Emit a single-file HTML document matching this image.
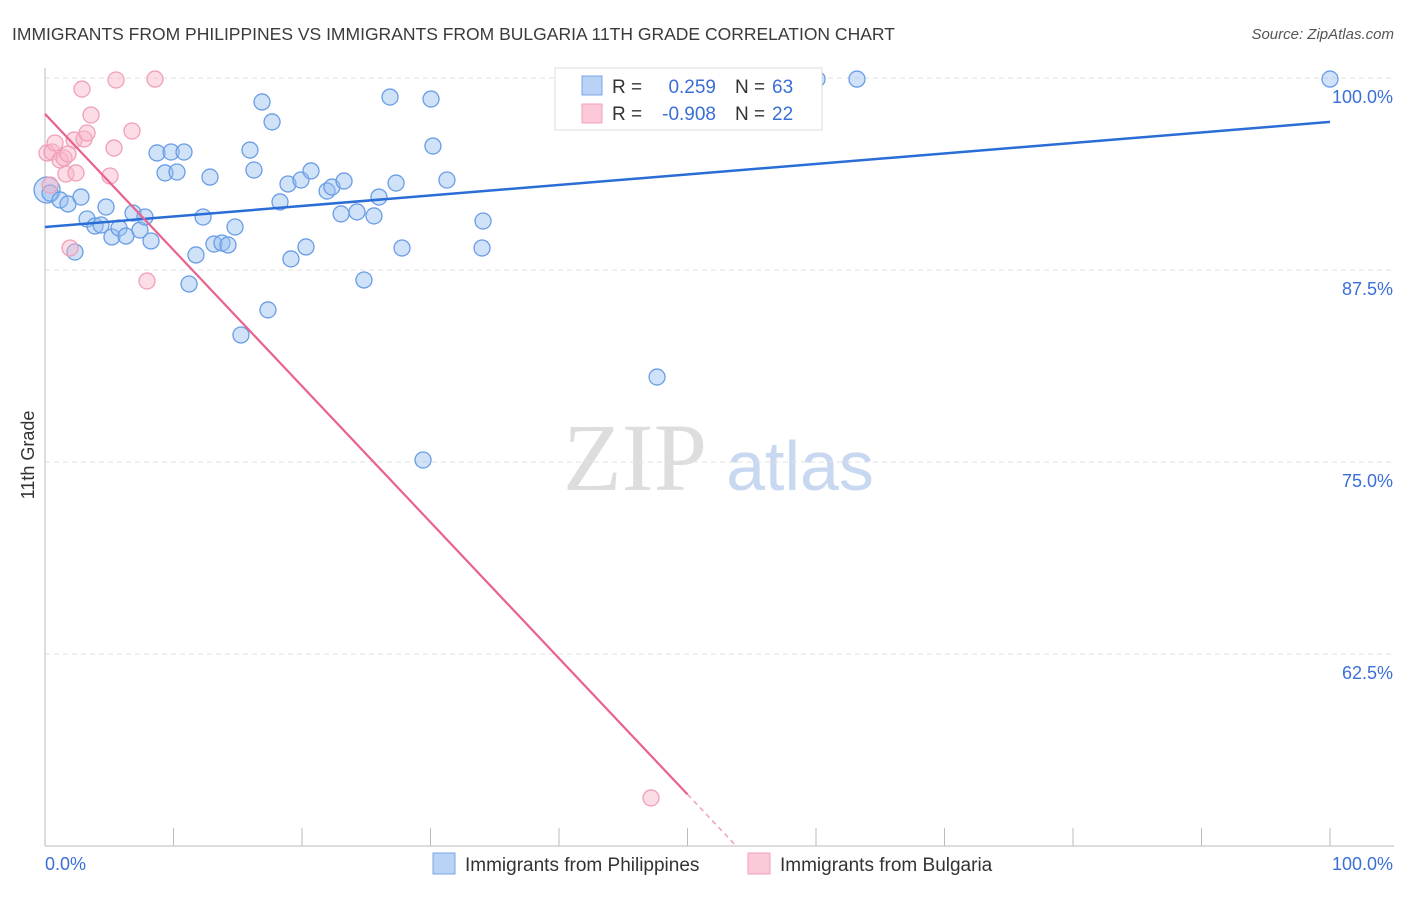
<!DOCTYPE html>
<html><head><meta charset="utf-8"><style>
body{margin:0;background:#fff;font-family:"Liberation Sans",sans-serif;}
</style></head><body>
<svg id="chart" width="1406" height="892" xmlns="http://www.w3.org/2000/svg" font-family="Liberation Sans, sans-serif">
<text x="12" y="40" font-size="17.5" fill="#3a3a3a">IMMIGRANTS FROM PHILIPPINES VS IMMIGRANTS FROM BULGARIA 11TH GRADE CORRELATION CHART</text>
<text x="1394" y="39" font-size="15" fill="#555" font-style="italic" text-anchor="end">Source: ZipAtlas.com</text>
<g><text x="635" y="490" font-size="96" fill="#ddd" font-family="Liberation Serif, serif" text-anchor="middle">ZIP</text><text x="800" y="490" font-size="70" fill="#c8d8f0" text-anchor="middle">atlas</text></g>
<text transform="translate(34,455) rotate(-90)" font-size="18" fill="#333" text-anchor="middle">11th Grade</text>
<g id="grid"></g><g id="marks"></g>
<g>
<rect x="555" y="68" width="267" height="62" fill="#fff" stroke="#ddd"/>
<rect x="582" y="76" width="20" height="19" fill="#b9d3f7" stroke="#7aa6e6"/>
<rect x="582" y="104" width="20" height="19" fill="#fbc9d8" stroke="#f0a0b8"/>
<text x="612" y="93" font-size="19" fill="#333">R =</text>
<text x="716" y="93" font-size="19" fill="#3a6fd8" text-anchor="end">0.259</text>
<text x="735" y="93" font-size="19" fill="#333">N =</text>
<text x="772" y="93" font-size="19" fill="#3a6fd8">63</text>
<text x="612" y="120" font-size="19" fill="#333">R =</text>
<text x="716" y="120" font-size="19" fill="#3a6fd8" text-anchor="end">-0.908</text>
<text x="735" y="120" font-size="19" fill="#333">N =</text>
<text x="772" y="120" font-size="19" fill="#3a6fd8">22</text>
</g>
<g>
<rect x="433" y="853" width="22" height="21" fill="#b9d3f7" stroke="#7aa6e6"/>
<text x="465" y="871" font-size="19" fill="#333">Immigrants from Philippines</text>
<rect x="748" y="853" width="22" height="21" fill="#fbc9d8" stroke="#f0a0b8"/>
<text x="780" y="871" font-size="19" fill="#333">Immigrants from Bulgaria</text>
</g>
</svg>
<script>
const blueX=[0.16,0.39,1.17,1.79,2.33,2.80,3.27,3.89,4.36,4.75,5.21,5.76,6.30,6.85,7.39,7.78,8.25,8.72,9.34,9.81,10.27,10.82,11.21,11.75,12.30,12.84,13.15,13.77,14.24,14.79,15.25,15.95,16.26,16.89,17.35,17.67,18.29,18.91,19.14,19.92,20.31,20.70,21.95,22.33,23.04,23.27,24.28,24.82,25.60,25.99,26.85,27.32,27.78,29.42,30.04,30.19,31.28,34.01,34.09,47.63,60.08,63.19,100];
const blueY=[92.71,92.51,92.06,91.80,88.67,92.25,90.82,90.36,90.43,91.60,89.65,90.23,89.71,91.21,90.10,90.95,89.39,95.12,93.82,95.18,93.88,95.18,86.59,88.48,90.95,93.55,89.19,89.26,89.13,90.30,83.27,95.31,94.01,98.44,84.90,97.14,91.93,93.10,88.22,93.36,89.00,93.95,92.64,92.90,91.15,93.29,91.28,86.85,91.02,92.25,98.76,93.16,88.93,75.13,98.63,95.57,93.36,88.93,90.69,80.53,99.93,99.93,99.93];
const pinkX=[0.16,0.54,0.78,1.17,1.48,1.63,1.79,1.95,2.26,2.41,2.88,3.04,3.27,3.58,5.06,5.37,5.53,6.77,7.94,8.56,47.16,0.39];
const pinkY=[95.12,95.18,95.77,94.66,94.79,93.75,95.05,88.93,95.96,93.82,99.28,96.03,96.42,97.59,93.62,95.44,99.87,96.55,86.78,99.93,53.13,93.03];
const blueTrend=[90.30,97.14];
const pinkTrend=[97.66,-0.886];
const yTicks=[100,87.5,75,62.5];
const yTickLabels=["100.0%","87.5%","75.0%","62.5%"];
const xTicks=[0,10,20,30,40,50,60,70,80,90,100];
const NS="http://www.w3.org/2000/svg";
const sx=v=>45+v*12.85, sy=v=>78+(100-v)/12.5*192;
function mk(t,a,p){const e=document.createElementNS(NS,t);for(const k in a)e.setAttribute(k,a[k]);p.appendChild(e);return e;}
const g=document.getElementById('grid'),m=document.getElementById('marks');
yTicks.forEach((v,i)=>{
 const l=mk('line',{x1:45,x2:1394,y1:sy(v),y2:sy(v),stroke:'#e2e2e2','stroke-dasharray':'5,4'},g);
 
 
 const t=mk('text',{x:1393,y:sy(v)+25,'font-size':18,fill:'#3a6fd8','text-anchor':'end'},g);t.textContent=yTickLabels[i];
 
 
});
mk('line',{x1:45,x2:45,y1:68,y2:846,stroke:'#bbb'},g);
mk('line',{x1:45,x2:1394,y1:846,y2:846,stroke:'#bbb'},g);
xTicks.forEach(v=>{const l=mk('line',{x1:sx(v),x2:sx(v),y1:828,y2:846,stroke:'#bbb'},g);
 
 });
let t=mk('text',{x:45,y:870,'font-size':18,fill:'#3a6fd8'},g);t.textContent='0.0%';


t=mk('text',{x:1393,y:870,'font-size':18,fill:'#3a6fd8','text-anchor':'end'},g);t.textContent='100.0%';


blueX.forEach((x,i)=>{const c=mk('circle',{cx:sx(x),cy:sy(blueY[i]),r:i==0?13:8,fill:'rgba(150,190,240,0.45)',stroke:'#6a9de6','stroke-width':1.3},m);
 
 });
pinkX.forEach((x,i)=>{const c=mk('circle',{cx:sx(x),cy:sy(pinkY[i]),r:8,fill:'rgba(248,180,200,0.45)',stroke:'#f0a0b8','stroke-width':1.3},m);
 
 });
let l=mk('line',{x1:sx(0),y1:sy(blueTrend[0]),x2:sx(100),y2:sy(blueTrend[1]),stroke:'#2a6dd6','stroke-width':2.5},m);


const pe=50, pend=(50-pinkTrend[0])/pinkTrend[1];
l=mk('line',{x1:sx(0),y1:sy(pinkTrend[0]),x2:sx(pe),y2:sy(pinkTrend[0]+pinkTrend[1]*pe),stroke:'#e8628f','stroke-width':2.2},m);


l=mk('line',{x1:sx(pe),y1:sy(pinkTrend[0]+pinkTrend[1]*pe),x2:sx(pend),y2:sy(50),stroke:'#f0a0b8','stroke-width':1.5,'stroke-dasharray':'5,4'},m);


</script>
</body></html>
